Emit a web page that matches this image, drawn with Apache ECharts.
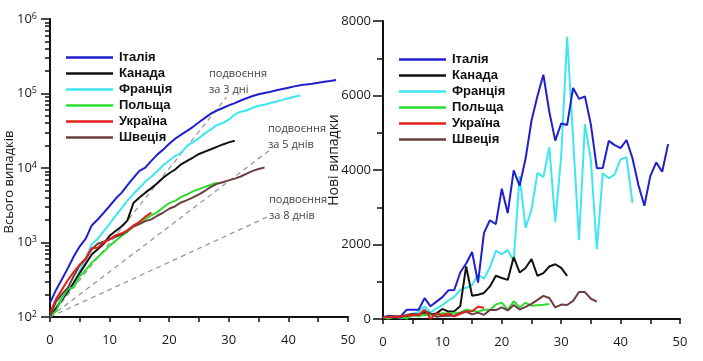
<!DOCTYPE html>
<html><head><meta charset="utf-8">
<script src="https://cdn.jsdelivr.net/npm/echarts@6/dist/echarts.min.js"></script>
<style>html,body{margin:0;padding:0;background:#fff}#c{width:703px;height:361px}</style>
</head><body><div id="c"></div>
<script>
// ---- categories / names ----
const countries = ['Італія', 'Канада', 'Франція', 'Польща', 'Україна', 'Швеція'];
const xTicks = [0, 10, 20, 30, 40, 50];

// ---- cumulative cases (left chart), index = day ----
const italyTotal = [155, 229, 322, 453, 655, 888, 1128, 1694, 2036, 2502, 3089, 3858, 4636, 5883, 7375, 9172, 10149, 12462, 15113, 17660, 21157, 24747, 27980, 31506, 35713, 41035, 47021, 53578, 59138, 63927, 69176, 74386, 80589, 86498, 92472, 97689, 101739, 105792, 110574, 115242, 119827, 124632, 128948, 132547, 135586, 139422, 143626, 147577, 152271];
const canadaTotal = [100, 130, 170, 220, 290, 390, 520, 690, 810, 960, 1230, 1430, 1640, 1980, 3390, 4015, 4665, 5365, 6240, 7400, 8500, 9550, 11210, 12460, 13830, 15440, 16600, 17830, 19240, 20710, 22080, 23240];
const franceTotal = [100, 130, 191, 212, 285, 423, 613, 949, 1126, 1412, 1784, 2281, 2876, 3661, 4469, 5380, 6573, 7652, 9043, 10871, 12612, 14459, 16018, 19856, 22302, 25233, 29155, 32964, 37575, 40174, 44550, 52128, 56989, 59105, 64338, 68605, 70478, 74390, 78167, 82048, 86334, 90676, 93790];
const polandTotal = [103, 119, 177, 238, 251, 355, 425, 536, 634, 749, 901, 1051, 1221, 1389, 1638, 1862, 2055, 2311, 2554, 2946, 3383, 3627, 4102, 4413, 4848, 5205, 5575, 5955, 6356];
const ukraineTotal = [113, 173, 233, 313, 403, 503, 613, 840, 850, 1000, 1100, 1250, 1320, 1460, 1683, 1893, 2223, 2523];
const swedenTotal = [101, 161, 203, 248, 355, 500, 599, 814, 961, 1022, 1103, 1190, 1279, 1439, 1639, 1763, 1934, 2046, 2286, 2526, 2840, 3069, 3447, 3700, 4028, 4435, 4947, 5568, 6131, 6443, 6830, 7206, 7693, 8419, 9141, 9685, 10151];

// ---- daily new cases (right chart), index = day ----
const italyNew = [45, 90, 75, 75, 250, 250, 250, 560, 340, 466, 587, 769, 778, 1247, 1492, 1797, 977, 2313, 2651, 2547, 3497, 2840, 3990, 3580, 4300, 5322, 5986, 6557, 5560, 4789, 5249, 5210, 6203, 5909, 5974, 5217, 4050, 4053, 4782, 4668, 4585, 4805, 4316, 3599, 3039, 3836, 4204, 3951, 4694];
const canadaNew = [10, 30, 40, 50, 70, 100, 130, 170, 120, 150, 270, 200, 210, 340, 1410, 625, 650, 700, 875, 1160, 1100, 1050, 1660, 1250, 1370, 1610, 1160, 1230, 1410, 1470, 1370, 1160];
const franceNew = [40, 30, 61, 21, 73, 138, 190, 336, 177, 286, 372, 497, 595, 785, 838, 911, 1193, 1079, 1391, 1828, 1741, 1847, 1559, 3838, 2446, 2931, 3922, 3809, 4611, 2599, 4376, 7578, 4861, 2116, 5233, 4267, 1873, 3912, 3777, 3881, 4286, 4342, 3114];
const polandNew = [35, 16, 58, 61, 13, 104, 70, 111, 98, 115, 152, 150, 170, 168, 249, 224, 193, 256, 243, 392, 437, 244, 475, 311, 435, 357, 370, 380, 401];
const ukraineNew = [30, 60, 60, 80, 90, 100, 110, 250, 10, 150, 100, 150, 70, 140, 200, 210, 330, 300];
const swedenNew = [40, 60, 42, 45, 107, 145, 99, 215, 147, 61, 81, 87, 89, 160, 200, 124, 171, 112, 240, 240, 314, 229, 378, 253, 328, 407, 512, 621, 563, 312, 387, 376, 487, 726, 722, 544, 466];

// ---- doubling reference lines (endpoints) ----
const double3 = [[0, 100], [29.6, 89000]];
const double5 = [[0, 100], [37.5, 19000]];
const double8 = [[0, 100], [36.4, 2190]];
const doubleLabels = ['подвоєння\nза 3 дні', 'подвоєння\nза 5 днів', 'подвоєння\nза 8 днів'];

// ---- y tick values ----
const logMajor = [100, 1000, 10000, 100000, 1000000];
const newTicks = [0, 2000, 4000, 6000, 8000];

const colors = ['#1f1fcf', '#111111', '#3ee6f0', '#2edb2e', '#e3201c', '#6b3f3f'];
const totals = [italyTotal, canadaTotal, franceTotal, polandTotal, ukraineTotal, swedenTotal];
const news = [italyNew, canadaNew, franceNew, polandNew, ukraineNew, swedenNew];
const drawOrder = [2, 0, 1, 3, 5, 4];

const toPts = arr => arr.map((v, i) => [i, v]);
const minorLog = [];
for (let d = 2; d < 6; d++) for (let k = 2; k <= 9; k++) minorLog.push(d + Math.log10(k));

const axisLineStyle = { color: '#111', width: 2 };
const tickStyle = { color: '#111', width: 1.5 };
const labelFont = { fontFamily: 'Open Sans', fontSize: 13, color: '#1a1a1a' };

const xAxisBase = gi => ({
  gridIndex: gi, type: 'value', min: 0, max: 50, interval: 5,
  axisLine: { show: true, lineStyle: axisLineStyle },
  axisTick: { show: true, inside: false, length: 5, lineStyle: tickStyle },
  axisLabel: Object.assign({ margin: 17, formatter: v => xTicks.includes(v) ? String(v) : '' }, labelFont),
  splitLine: { show: false }
});

const series = [];
drawOrder.forEach(i => {
  series.push({
    name: countries[i], type: 'line', xAxisIndex: 0, yAxisIndex: 0,
    data: toPts(totals[i]), symbol: 'none', lineStyle: { width: 2, color: colors[i] },
    itemStyle: { color: colors[i] }, z: 3
  });
  series.push({
    name: countries[i], type: 'line', xAxisIndex: 1, yAxisIndex: 2,
    data: toPts(news[i]), symbol: 'none', lineStyle: { width: 2, color: colors[i] },
    itemStyle: { color: colors[i] }, z: 3
  });
});
[double3, double5, double8].forEach(d => {
  series.push({
    type: 'line', xAxisIndex: 0, yAxisIndex: 0, data: d, symbol: 'none', silent: true,
    lineStyle: { width: 1.3, color: '#9a9a9a', type: [5, 4] }, z: 2
  });
});

const legendBase = (left, top) => ({
  left, top, orient: 'vertical', icon: 'rect', itemWidth: 47, itemHeight: 2.5, itemGap: 3,
  data: countries, selectedMode: true,
  textStyle: { fontFamily: 'Liberation Sans', fontWeight: 'bold', fontSize: 13, color: '#111', lineHeight: 12, padding: [0, 0, 0, 1] }
});

const dblText = (x, y, t) => ({
  type: 'text', x, y, silent: true,
  style: { text: t, fontFamily: 'Open Sans', fontSize: 11, lineHeight: 16, fill: '#444', align: 'left', verticalAlign: 'top' }
});

const option = {
  animation: false,
  backgroundColor: '#fff',
  grid: [
    { left: 50, top: 19, width: 298, height: 298, containLabel: false },
    { left: 383, top: 21, width: 297, height: 298, containLabel: false }
  ],
  legend: [legendBase(61, 46), legendBase(394, 48)],
  xAxis: [xAxisBase(0), xAxisBase(1)],
  yAxis: [
    {
      gridIndex: 0, type: 'log', logBase: 10, min: 100, max: 1000000,
      axisLine: { show: true, lineStyle: axisLineStyle },
      axisTick: { show: true, inside: false, length: 9, lineStyle: tickStyle },
      axisLabel: Object.assign({
        margin: 13,
        formatter: v => logMajor.includes(v) ? '10{s|' + Math.round(Math.log10(v)) + '}' : '',
        rich: { s: { fontFamily: 'Open Sans', fontSize: 9, color: '#1a1a1a', verticalAlign: 'top', padding: [0, 0, 6, 0] } }
      }, labelFont),
      splitLine: { show: false }
    },
    {
      gridIndex: 0, type: 'value', min: 2, max: 6, position: 'left',
      axisLine: { show: false }, axisLabel: { show: false }, splitLine: { show: false },
      axisTick: { show: true, inside: false, length: 5, customValues: minorLog, lineStyle: tickStyle }
    },
    {
      gridIndex: 1, type: 'value', min: 0, max: 8000, interval: 2000,
      axisLine: { show: true, lineStyle: axisLineStyle },
      axisTick: { show: true, inside: false, length: 10, lineStyle: tickStyle },
      minorTick: { show: true, splitNumber: 2, length: 6, lineStyle: tickStyle },
      axisLabel: Object.assign({ margin: 12, formatter: v => newTicks.includes(v) ? String(v) : '' }, labelFont),
      splitLine: { show: false }
    }
  ],
  graphic: [
    dblText(209, 66, doubleLabels[0]),
    dblText(268, 121, doubleLabels[1]),
    dblText(269, 192, doubleLabels[2]),
    { type: 'text', x: 9, y: 182, rotation: Math.PI / 2, silent: true,
      style: { text: 'Всього випадків', fontFamily: 'Open Sans', fontSize: 13, fill: '#1a1a1a', align: 'center', verticalAlign: 'middle' } },
    { type: 'text', x: 334, y: 160, rotation: Math.PI / 2, silent: true,
      style: { text: 'Нові випадки', fontFamily: 'Open Sans', fontSize: 14, fill: '#1a1a1a', align: 'center', verticalAlign: 'middle' } }
  ],
  series
};
const chart = echarts.init(document.getElementById('c'), null, { renderer: 'canvas' });
chart.setOption(option);
</script></body></html>
